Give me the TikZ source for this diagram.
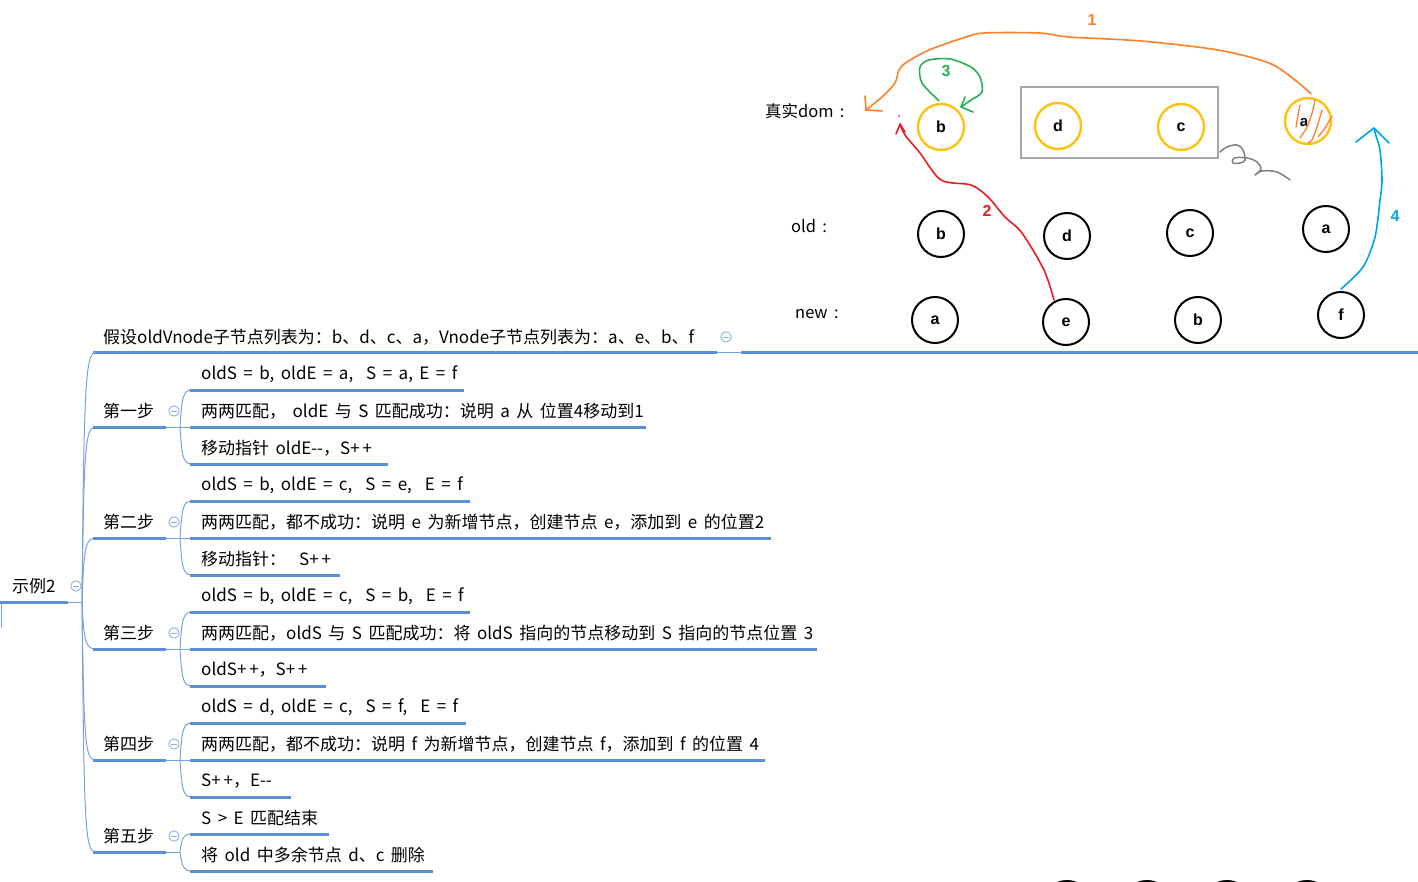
\documentclass[tikz,border=0pt]{standalone}
\usepackage{fontspec}
\setmainfont{Noto Sans CJK SC}[WordSpace=1.7]
\newfontfamily\letfont{Liberation Sans}
\usetikzlibrary{calc}
\definecolor{mmblue}{HTML}{5A8FD4}
\definecolor{mmthin}{HTML}{7AA3DC}
\definecolor{iconc}{HTML}{8EAEDC}
\definecolor{dyellow}{HTML}{FFC20E}
\definecolor{dorange}{HTML}{FF7F27}
\definecolor{dgreen}{HTML}{22B14C}
\definecolor{dred}{HTML}{ED1C24}
\definecolor{dblue}{HTML}{00A2E8}
\definecolor{dgray}{HTML}{7F7F7F}
\begin{document}
\begin{tikzpicture}[x=1pt,y=-1pt,
  txt/.style={anchor=west, inner sep=0pt, font=\fontsize{17}{19}\selectfont},
  lbl/.style={anchor=west, inner sep=0pt, font=\fontsize{16.5}{18}\selectfont},
  ul/.style={line width=3pt, color=mmblue},
  conn/.style={line width=1pt, color=mmthin},
  collapse/.pic={\draw[iconc, line width=0.9pt] (0,0) circle (5.2); \draw[iconc, line width=0.9pt] (-2.8,0)--(2.8,0);},
  ycirc/.style={circle, draw=dyellow, line width=2.4pt, minimum size=46pt, inner sep=0pt, font=\letfont\bfseries\fontsize{16}{18}\selectfont},
  kcirc/.style={circle, draw=black, line width=2pt, minimum size=46pt, inner sep=0pt, font=\letfont\bfseries\fontsize{16}{18}\selectfont},
  num/.style={inner sep=0pt, font=\letfont\bfseries\fontsize{16}{18}\selectfont},
  hand/.style={line width=1.6pt, line cap=round, line join=round}
]
\useasboundingbox (0,0) rectangle (1418,882);

% ---------- mind map ----------
% root
\node[txt] (root) at (12,586) {示例2};
\draw[ul] (0,602) -- (68,602);
\draw[conn] (68,602) -- (82,602);
\coordinate (rj) at (82,602);
\pic at (76,586) {collapse};
\draw[conn] (1,603) -- (1,628);

% top child
\node[txt] (intro) at (103,337) {假设oldVnode子节点列表为：b、d、c、a，Vnode子节点列表为：a、e、b、f};
\draw[ul] (93,352) -- (717,352);
\draw[conn] (717,352) -- (741,352);
\draw[ul] (741,352) -- (1418,352);
\pic at (726,337) {collapse};

% root connectors
\draw[conn] (rj) .. controls (84,390) and (85,352) .. (96,352);
\draw[conn] (rj) .. controls (84,445) and (85,427) .. (96,427);
\draw[conn] (rj) .. controls (84,548) and (85,538) .. (96,538);
\draw[conn] (rj) .. controls (84,640) and (85,649) .. (96,649);
\draw[conn] (rj) .. controls (84,745) and (85,760) .. (96,760);
\draw[conn] (rj) .. controls (84,830) and (85,852) .. (96,852);

% steps
\foreach \Y/\name in {411/第一步, 522/第二步, 633/第三步, 744/第四步, 836/第五步}{
  \node[txt] at (103,\Y) {\name};
  \draw[ul] (93,\Y+16) -- (166,\Y+16);
  \pic at (174,\Y) {collapse};
}
\coordinate (s1) at (180,427);
\coordinate (s2) at (180,538);
\coordinate (s3) at (180,649);
\coordinate (s4) at (180,760);
\coordinate (s5) at (180,852);

% three-children connectors
\foreach \U in {427,538,649,760}{
  \draw[conn] (166,\U) -- (192,\U);
  \draw[conn] (180,\U) .. controls (182,\U-30) and (183,\U-37) .. (192,\U-37);
  \draw[conn] (180,\U) .. controls (182,\U+30) and (183,\U+37) .. (192,\U+37);
}
% step 5 connectors
\draw[conn] (166,852) -- (s5);
\draw[conn] (s5) .. controls (182,838) and (183,834) .. (192,834);
\draw[conn] (s5) .. controls (182,866) and (183,871) .. (192,871);

% step 1 children
\node[txt] (a1) at (201,374) {oldS = b, oldE = a,\ \ S = a, E = f};
\draw[ul] (190,390) -- (464,390);
\node[txt] (a2) at (201,411) {两两匹配，\ oldE 与 S 匹配成功：说明 a 从 位置4移动到1};
\draw[ul] (190,427) -- (646,427);
\node[txt] (a3) at (201,448) {移动指针 oldE-{}-，S+\,+};
\draw[ul] (190,464) -- (388,464);

% step 2 children
\node[txt] (b1) at (201,485) {oldS = b, oldE = c,\ \ S = e,\ \ E = f};
\draw[ul] (190,501) -- (470,501);
\node[txt] (b2) at (201,522) {两两匹配，都不成功：说明 e 为新增节点，创建节点 e，添加到 e 的位置2};
\draw[ul] (190,538) -- (771,538);
\node[txt] (b3) at (201,559) {移动指针：\ \ S+\,+};
\draw[ul] (190,575) -- (340,575);

% step 3 children
\node[txt] (c1) at (201,596) {oldS = b, oldE = c,\ \ S = b,\ \ E = f};
\draw[ul] (190,612) -- (470,612);
\node[txt] (c2) at (201,633) {两两匹配，oldS 与 S 匹配成功：将 oldS 指向的节点移动到 S 指向的节点位置 3};
\draw[ul] (190,649) -- (817,649);
\node[txt] (c3) at (201,670) {oldS+\,+，S+\,+};
\draw[ul] (190,686) -- (326,686);

% step 4 children
\node[txt] (d1) at (201,707) {oldS = d, oldE = c,\ \ S = f,\ \ E = f};
\draw[ul] (190,723) -- (466,723);
\node[txt] (d2) at (201,744) {两两匹配，都不成功：说明 f 为新增节点，创建节点 f，添加到 f 的位置 4};
\draw[ul] (190,760) -- (765,760);
\node[txt] (d3) at (201,781) {S+\,+，E-{}-};
\draw[ul] (190,797) -- (291,797);

% step 5 children
\node[txt] (e1) at (201,818) {S > E 匹配结束};
\draw[ul] (190,834) -- (329,834);
\node[txt] (e2) at (201,855) {将 old 中多余节点 d、c 删除};
\draw[ul] (190,871) -- (433,871);

% ---------- diagram ----------
\node[lbl] (lreal) at (765,111) {真实dom :};
\node[lbl] (lold) at (791,226) {old :};
\node[lbl] (lnew) at (795,314) {new :};

\draw[color=gray!70, line width=1.2pt] (1021,87) rectangle (1218,158);

\node[ycirc] (rb) at (941,127) {b};
\node[ycirc] (rd) at (1058,126) {d};
\node[ycirc] (rc) at (1181,127) {c};
\node[ycirc] (ra) at (1308,121) {};
\node[inner sep=0pt, font=\letfont\bfseries\fontsize{15}{17}\selectfont] (ral) at (1304,123) {a};

\node[kcirc] (ob) at (941,234) {b};
\node[kcirc] (od) at (1067,236) {d};
\node[kcirc] (oc) at (1190,233) {c};
\node[kcirc] (oa) at (1326,229) {a};

\node[kcirc] (na) at (935,320) {a};
\node[kcirc] (ne) at (1066,322) {e};
\node[kcirc] (nb) at (1198,320) {b};
\node[kcirc] (nf) at (1341,315) {f};

% cut-off circles at the bottom edge
\foreach \xx in {1067,1147,1227,1307}{
  \draw[black, line width=2pt] (\xx,906) circle (25);
}

% hatching of a
\draw[dorange, hand, line width=1.3pt] plot[smooth] coordinates {(1300,105) (1298,115) (1296,127)};
\draw[dorange, hand, line width=1.3pt] plot[smooth] coordinates {(1315,100) (1312,113) (1307,127) (1300,138)};
\draw[dorange, hand, line width=1.3pt] plot[smooth] coordinates {(1322,110) (1317,127) (1312,140) (1308,143)};
\draw[dorange, hand, line width=1.3pt] plot[smooth] coordinates {(1332,116) (1325,128) (1318,137)};

% arrow 1 (orange)
\coordinate (o1s) at ($(ra.north)+(3,-3)$);
\coordinate (o1e) at (866,110);
\draw[dorange, hand] plot[smooth] coordinates {(o1s) (1295,80) (1269,63) (1218,50) (1141,41) (1069,37) (1039,33) (984,33) (963,38) (929,50) (907,62) (899,70) (895,83) (882,97) (o1e)};
\draw[dorange, hand] (865,96) -- (o1e) -- (882,111);
\node[num, text=dorange] (n1) at (1092,20) {1};

% arrow 3 (green loop)
\coordinate (g3s) at ($(rb.north)+(-2,-2)$);
\coordinate (g3e) at (961,107);
\draw[dgreen, hand] plot[smooth] coordinates {(g3s) (922,83) (920,67) (929,60) (950,59) (971,67) (980,77) (982,92) (971,100) (g3e)};
\draw[dgreen, hand] (965,97) -- (g3e) -- (973,112);
\node[num, text=dgreen] (n3) at (946,71) {3};

% arrow 2 (red)
\coordinate (r2s) at ($(ne.north)+(-12,2)$);
\coordinate (r2e) at (900,124);
\draw[dred, hand] plot[smooth] coordinates {(r2s) (1044,270) (1022,233) (1005,217) (988,197) (971,185) (941,180) (920,153) (905,135) (r2e)};
\draw[dred, hand] (896,134) -- (r2e) -- (905,132);
\fill[dred] (899,116) circle (1);
\node[num, text=dred] (n2) at (987,211) {2};

% arrow 4 (blue)
\coordinate (b4s) at ($(nf.north)+(0,-2)$);
\coordinate (b4e) at (1374,128);
\draw[dblue, hand] plot[smooth] coordinates {(b4s) (1363,267) (1375,237) (1380,200) (1382,180) (1380,150) (1376,136) (b4e)};
\draw[dblue, hand] (1356,142) -- (b4e) -- (1389,143);
\node[num, text=dblue] (n4) at (1395,216) {4};

% gray scribble
\draw[dgray, hand, line width=1.5pt] plot[smooth, tension=0.6] coordinates {(1220,152) (1227,147) (1237,145) (1243,150) (1245,160) (1240,163) (1233,163) (1234,158) (1247,158) (1257,162) (1261,169) (1255,175) (1262,171) (1277,172) (1290,180)};
\end{tikzpicture}
\end{document}
